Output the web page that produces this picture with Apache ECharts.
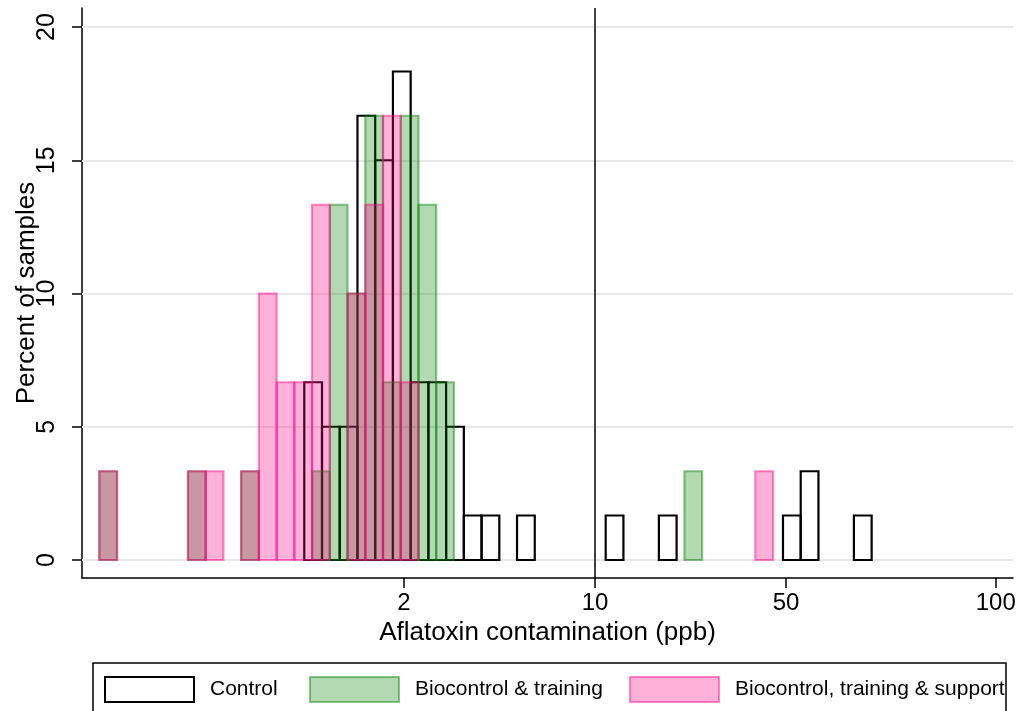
<!DOCTYPE html>
<html>
<head>
<meta charset="utf-8">
<script src="https://cdn.jsdelivr.net/npm/echarts@6/dist/echarts.min.js"></script>
<style>
html,body{margin:0;padding:0;background:#fff;}
#chart{width:1019px;height:711px;}
</style>
</head>
<body>
<div id="chart"></div>
<script>
// x axis is in ln(ppb) units
const xTickValues = [0.693, 2.303, 3.912, 5.68];
const xTickLabels = ['2', '10', '50', '100'];
const yTickValues = [0, 5, 10, 15, 20];
const refLineX = 2.303; // ln(10 ppb)

const binWidth = 0.1494;          // ln(ppb)
const treatedStart = -1.874;      // first bin edge, treated groups
const controlStart = -0.147;      // first bin edge, control group

const controlBins = [0, 1, 2, 3, 4, 5, 6, 7, 8, 9, 10, 12, 17, 20, 27, 28, 31];
const controlPct  = [6.67, 5, 5, 16.67, 15, 18.33, 6.67, 6.67, 5, 1.67, 1.67, 1.67, 1.67, 1.67, 1.67, 3.33, 1.67];

const greenBins = [0, 5, 8, 12, 13, 14, 15, 16, 17, 18, 19, 33];
const greenPct  = [3.33, 3.33, 3.33, 3.33, 13.33, 10, 16.67, 6.67, 16.67, 13.33, 6.67, 3.33];

const pinkBins = [0, 5, 6, 8, 9, 10, 11, 12, 14, 15, 16, 17, 37];
const pinkPct  = [3.33, 3.33, 3.33, 3.33, 10, 6.67, 6.67, 13.33, 10, 13.33, 16.67, 6.67, 3.33];

const seriesNames = ['Control', 'Biocontrol & training', 'Biocontrol, training & support'];

function toBins(start, bins, pct) {
  return bins.map((b, i) => [start + b * binWidth, start + (b + 1) * binWidth, pct[i]]);
}

const styles = [
  { fill: 'rgba(0,0,0,0)', stroke: '#000', lineWidth: 2.2 },
  { fill: 'rgba(0,128,0,0.3)', stroke: 'rgba(0,128,0,0.45)', lineWidth: 2.2 },
  { fill: 'rgba(255,0,128,0.3)', stroke: 'rgba(255,0,128,0.45)', lineWidth: 2.2 }
];

function histSeries(name, data, st) {
  return {
    type: 'custom',
    name: name,
    z: 3,
    encode: { x: [0, 1], y: 2 },
    data: data,
    renderItem: function (params, api) {
      const p0 = api.coord([api.value(0), api.value(2)]);
      const p1 = api.coord([api.value(1), 0]);
      return {
        type: 'rect',
        shape: { x: p0[0], y: p0[1], width: p1[0] - p0[0], height: p1[1] - p0[1] },
        style: { fill: st.fill, stroke: st.stroke, lineWidth: st.lineWidth }
      };
    }
  };
}

function xLabel(v) {
  let best = 0;
  for (let i = 1; i < xTickValues.length; i++) {
    if (Math.abs(xTickValues[i] - v) < Math.abs(xTickValues[best] - v)) best = i;
  }
  return xTickLabels[best];
}

const FONT = 'Liberation Sans, Arial, Helvetica, sans-serif';

function legendItem(name, st, left) {
  return {
    left: left, top: 676, padding: 0,
    itemWidth: 89, itemHeight: 25,
    selectedMode: false,
    textStyle: { fontSize: 21, color: '#000', fontFamily: FONT, padding: [0, 0, 0, 11] },
    data: [{ name: name, icon: 'rect', itemStyle: { color: st.fill, borderColor: st.stroke, borderWidth: 2 } }]
  };
}

const chart = echarts.init(document.getElementById('chart'), null, { renderer: 'canvas' });
chart.setOption({
  animation: false,
  backgroundColor: '#fff',
  textStyle: { fontFamily: FONT },
  grid: { left: 82, right: 6, top: 8, bottom: 133, containLabel: false, outerBoundsMode: 'none' },
  xAxis: {
    type: 'value', min: -2.02, max: 5.825,
    axisLine: { onZero: false, lineStyle: { color: '#000', width: 1.5 } },
    axisTick: { show: true, length: 10, customValues: xTickValues, lineStyle: { color: '#000', width: 1.5 } },
    axisLabel: { customValues: xTickValues, formatter: xLabel, fontSize: 24, color: '#000', margin: 13, fontFamily: FONT },
    splitLine: { show: false },
    name: 'Aflatoxin contamination (ppb)', nameLocation: 'middle', nameGap: 42, nameMoveOverlap: false,
    nameTextStyle: { fontSize: 26, color: '#000', fontFamily: FONT }
  },
  yAxis: {
    type: 'value', min: -0.675, max: 20.713,
    axisLine: { onZero: false, lineStyle: { color: '#000', width: 1.5 } },
    axisTick: { show: true, length: 10, customValues: yTickValues, lineStyle: { color: '#000', width: 1.5 } },
    axisLabel: { customValues: yTickValues, rotate: 90, fontSize: 25, color: '#000', margin: 22, fontFamily: FONT },
    splitLine: { show: false },
    name: 'Percent of samples', nameLocation: 'middle', nameRotate: 90, nameGap: 42, nameMoveOverlap: false,
    nameTextStyle: { fontSize: 26, color: '#000', fontFamily: FONT }
  },
  legend: [
    legendItem(seriesNames[0], styles[0], 104),
    legendItem(seriesNames[1], styles[1], 309),
    legendItem(seriesNames[2], styles[2], 629)
  ],
  graphic: [{
    type: 'rect', z: -1,
    shape: { x: 93, y: 663, width: 913, height: 70 },
    style: { fill: 'none', stroke: '#000', lineWidth: 1.5 }
  }],
  series: [
    {
      type: 'line', data: [], z: 1, zlevel: 0, silent: true,
      markLine: {
        z: 1, silent: true, symbol: 'none', label: { show: false },
        lineStyle: { color: '#e8e8e8', width: 2, type: 'solid' },
        data: yTickValues.map(v => ({ yAxis: v }))
      }
    },
    histSeries(seriesNames[0], toBins(controlStart, controlBins, controlPct), styles[0]),
    histSeries(seriesNames[1], toBins(treatedStart, greenBins, greenPct), styles[1]),
    histSeries(seriesNames[2], toBins(treatedStart, pinkBins, pinkPct), styles[2]),
    {
      type: 'line', data: [], z: 5, silent: true,
      markLine: {
        z: 5, silent: true, symbol: 'none', label: { show: false },
        lineStyle: { color: '#000', width: 1.5, type: 'solid' },
        data: [{ xAxis: refLineX }]
      }
    }
  ]
});
</script>
</body>
</html>
